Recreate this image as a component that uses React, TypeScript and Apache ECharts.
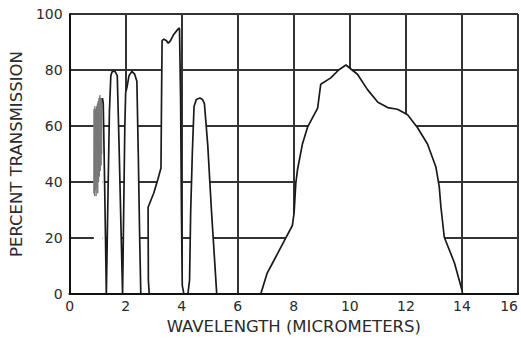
import React, { useEffect, useRef } from "react";
import * as echarts from "echarts";

const xTicks = [0, 2, 4, 6, 8, 10, 12, 14, 16];
const yTicks = [0, 20, 40, 60, 80, 100];

// dense hatched band near 1 micrometer (wavelength, transmission)
const bandX = [0.86, 0.87, 0.885, 0.9, 0.915, 0.93, 0.945, 0.96, 0.975, 0.99, 1.005, 1.02, 1.035, 1.05, 1.065, 1.08, 1.095, 1.11, 1.125, 1.14, 1.155, 1.17];
const bandY = [36, 66, 35, 67, 37, 66, 35, 67, 38, 68, 36, 69, 40, 70, 42, 71, 44, 70, 46, 70, 50, 70];

// main transmission curve
const waveX = [
  1.17, 1.2, 1.24, 1.28, 1.31,
  1.36, 1.42, 1.47, 1.52, 1.62, 1.7, 1.76, 1.83, 1.89,
  1.93, 1.97, 2.0, 2.05, 2.12, 2.22, 2.32, 2.4, 2.45, 2.5, 2.54,
  2.84, 2.81, 2.8, 3.0, 3.15, 3.26, 3.28, 3.3, 3.36, 3.45, 3.52, 3.6, 3.7, 3.86, 3.92, 3.96, 3.99, 4.02, 4.08,
  4.22, 4.28, 4.32, 4.38, 4.44, 4.52, 4.65, 4.74, 4.81, 4.93, 5.06, 5.25,
  6.82, 7.05, 7.29, 7.71, 7.95, 8.01, 8.07, 8.13, 8.31, 8.49, 8.85, 8.96, 9.32, 9.6, 9.86,
  10.27, 10.63, 11.0, 11.35, 11.7, 12.06, 12.41, 12.77, 13.07, 13.19, 13.25, 13.37, 13.73, 14.0, 14.02,
];
const transmission = [
  70, 68, 45, 20, 0,
  30, 65, 78, 79.5, 79.5, 78, 55, 25, 0,
  30, 60, 72, 74, 78, 79.5, 78.5, 76, 50, 20, 0,
  0, 5, 31, 36, 41, 45, 70, 90.5, 91, 90.5, 89.6, 90.5, 92.5, 94.5, 95, 70, 30, 3, 0,
  0, 5, 29.6, 50.7, 67, 69.5, 70, 69.5, 68, 53, 30, 0,
  0, 7.5, 12, 20, 24.5, 29, 39.4, 44.3, 53.7, 59.6, 66.4, 74.9, 77.2, 80, 81.8,
  78.5, 73, 68.5, 66.6, 66, 64, 59.5, 53.6, 45.4, 38.3, 31, 20.3, 11.2, 1.5, 0,
];

const FONT = "'DejaVu Sans', 'Liberation Sans', sans-serif";

export default function App() {
  const ref = useRef<HTMLDivElement>(null);
  useEffect(() => {
    if (!ref.current) return;
    const chart = echarts.init(ref.current, undefined, { renderer: "svg" });
    const xMin = xTicks[0];
    const xMax = xTicks[xTicks.length - 1];
    const yMin = yTicks[0];
    const yMax = yTicks[yTicks.length - 1];
    chart.setOption({
      animation: false,
      backgroundColor: "#ffffff",
      grid: { left: 67, right: 3, top: 14, bottom: 42 },
      xAxis: [
        {
          type: "value",
          min: xMin,
          max: xMax,
          interval: xTicks[1] - xTicks[0],
          name: "WAVELENGTH (MICROMETERS)",
          nameLocation: "middle",
          nameGap: 23,
          nameTextStyle: { fontFamily: FONT, fontSize: 16.5, color: "#2a2a2a" },
          axisLine: { show: true, lineStyle: { color: "#111", width: 2 } },
          axisTick: { show: false },
          axisLabel: { fontFamily: FONT, fontSize: 14, color: "#2a2a2a", margin: 5, alignMaxLabel: "right" },
          splitLine: { show: true, lineStyle: { color: "#333", width: 2 } },
        },
        {
          type: "value",
          min: xMin,
          max: xMax,
          position: "bottom",
          z: 10,
          axisLine: { show: true, lineStyle: { color: "#111", width: 2 } },
          axisTick: { show: false },
          axisLabel: { show: false },
          splitLine: { show: false },
        },
      ],
      yAxis: {
        type: "value",
        min: yMin,
        max: yMax,
        interval: yTicks[1] - yTicks[0],
        name: "PERCENT TRANSMISSION",
        nameLocation: "middle",
        nameGap: 39,
        nameTextStyle: { fontFamily: FONT, fontSize: 16.5, color: "#2a2a2a" },
        axisLine: { show: true, lineStyle: { color: "#111", width: 2 } },
        axisTick: { show: false },
        axisLabel: { fontFamily: FONT, fontSize: 14, color: "#2a2a2a", margin: 7 },
        splitLine: { show: true, lineStyle: { color: "#333", width: 2 } },
      },
      series: [
        {
          type: "line",
          name: "band",
          data: bandX.map((x, i) => [x, bandY[i]]),
          showSymbol: false,
          symbol: "none",
          lineStyle: { color: "#777", width: 1 },
          areaStyle: { color: "#ffffff", opacity: 1 },
          z: 3,
        },
        {
          type: "line",
          name: "transmission",
          data: waveX.map((x, i) => [x, transmission[i]]),
          showSymbol: false,
          symbol: "none",
          lineStyle: { color: "#1a1a1a", width: 1.7 },
          areaStyle: { color: "#ffffff", opacity: 1 },
          z: 4,
        },
      ],
    });
    return () => chart.dispose();
  }, []);
  return <div ref={ref} style={{ width: 521, height: 340, position: "absolute", left: 0, top: 0 }} />;
}
